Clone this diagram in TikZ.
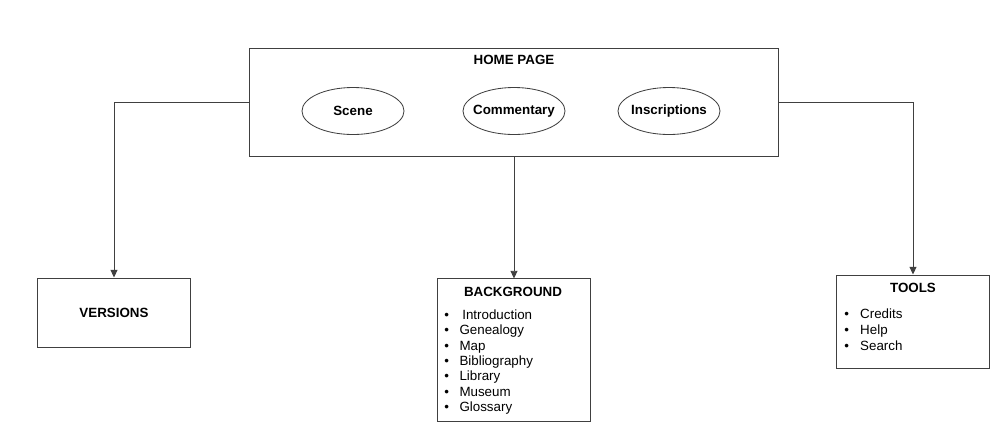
\documentclass[tikz,border=0pt]{standalone}
\usepackage{fontspec}
\setmainfont{Liberation Sans}
\usetikzlibrary{arrows.meta, positioning, shapes.geometric}

\begin{document}
\begin{tikzpicture}[x=0.025cm, y=-0.025cm, >={Triangle[length=5.5pt, width=5pt]},
  font=\fontsize{9.5}{10.9}\selectfont,
  box/.style={draw=black!75, line width=0.7pt, rectangle, inner sep=0pt, minimum width=3.8cm},
  oval/.style={draw=black!75, line width=0.6pt, ellipse, inner xsep=-6pt, inner ysep=0pt, minimum width=2.55cm, minimum height=1.175cm, font=\fontsize{9.5}{10.9}\selectfont\bfseries},
  title/.style={font=\fontsize{9.5}{10.9}\selectfont\bfseries},
  items/.style={anchor=north west, align=left, inner sep=0pt},
  link/.style={draw=black!75, line width=0.7pt, ->}]

  \useasboundingbox (0,0) rectangle (993,430);

  % Blocks
  \node[box, minimum width=13.2cm, minimum height=2.7cm] (home) at (514,102) {};
  \node[box, minimum height=1.725cm] (versions) at (114,312.5) {};
  \node[box, minimum height=3.55cm] (background) at (514,350) {};
  \node[box, minimum height=2.325cm] (tools) at (913,321.5) {};

  % Home page
  \node[title] (hometitle) at (514,60) {HOME PAGE};
  \node[oval] (scene) at (353,111) {Scene};
  \node[oval] (commentary) at (514,111) {Commentary};
  \node[oval] (inscriptions) at (669,111) {Inscriptions};

  % Titles and lists
  \node[title] (versionstitle) at (114,313) {VERSIONS};
  \node[title] (bgtitle) at (513,292) {BACKGROUND};
  \node[items] (bglist) at (444,309.5) {%
    \textbullet\hspace{9.5pt}Introduction\\
    \textbullet\hspace{7.5pt}Genealogy\\
    \textbullet\hspace{7.5pt}Map\\
    \textbullet\hspace{7.5pt}Bibliography\\
    \textbullet\hspace{7.5pt}Library\\
    \textbullet\hspace{7.5pt}Museum\\
    \textbullet\hspace{7.5pt}Glossary};
  \node[items, font=\fontsize{9.5}{11.4}\selectfont] (toolslist) at (844,308.5) {%
    \textbullet\hspace{8pt}Credits\\
    \textbullet\hspace{8pt}Help\\
    \textbullet\hspace{8pt}Search};
  \node[title] (toolstitle) at (913,288) {TOOLS};

  % Links
  \draw[link] (home.west) -| (versions.north);
  \draw[link] (home.south) -- (background.north);
  \draw[link] (home.east) -| (tools.north);

\end{tikzpicture}
\end{document}
